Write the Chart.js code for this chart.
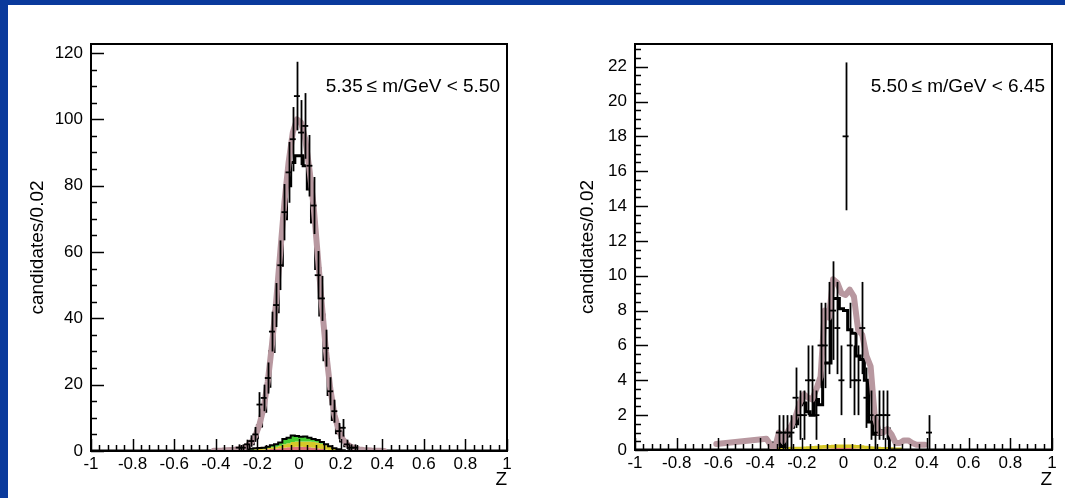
<!DOCTYPE html>
<html>
<head>
<meta charset="utf-8">
<script src="https://cdn.jsdelivr.net/npm/chart.js@4.4.1/dist/chart.umd.min.js"></script>
<style>
  html, body { margin: 0; padding: 0; background: #fff; }
  body { width: 1065px; height: 498px; position: relative; overflow: hidden; }
  .bar-top { position: absolute; left: 0; top: 0; width: 1065px; height: 5px; background: #0a3a9c; }
  .bar-left { position: absolute; left: 0; top: 0; width: 8px; height: 498px; background: #0a3a9c; }
  canvas { position: absolute; top: 5px; }
  #leftChart { left: 8px; }
  #rightChart { left: 540px; }
</style>
</head>
<body>
<div class="bar-top"></div>
<div class="bar-left"></div>
<canvas id="leftChart" width="532" height="493"></canvas>
<canvas id="rightChart" width="525" height="493"></canvas>
<script>
// Z bin centres (bin width 0.02), shared by both panels
const zBins = [-0.41, -0.39, -0.37, -0.35, -0.33, -0.31, -0.29, -0.27, -0.25, -0.23,
               -0.21, -0.19, -0.17, -0.15, -0.13, -0.11, -0.09, -0.07, -0.05, -0.03,
               -0.01, 0.01, 0.03, 0.05, 0.07, 0.09, 0.11, 0.13, 0.15, 0.17,
               0.19, 0.21, 0.23, 0.25, 0.27, 0.29, 0.31, 0.33, 0.35, 0.37,
               0.39, 0.41];

// Left panel: 5.35 <= m < 5.50
const leftCounts = [0, 0, 0, 0, 0, 0, 1, 1, 2, 3,
                    5, 14, 16, 22, 36, 44, 56, 72, 84, 94,
                    107, 96, 98, 86, 74, 53, 46, 31, 18, 12,
                    6, 7, 2, 1, 1, 0, 0, 0, 0, 0,
                    0, 0];
const leftSignal = [0, 0, 0, 0, 0, 0, 0.3, 0.6, 1.2, 2.2,
                    4, 7.5, 12, 19.5, 30, 42, 56, 70, 80, 87,
                    89, 89, 86, 79, 69, 55, 41, 27.5, 17, 9.5,
                    5.5, 3, 1.6, 0.8, 0.4, 0, 0, 0, 0, 0,
                    0, 0];
const leftFit = [0.05, 0.08, 0.12, 0.2, 0.3, 0.4, 0.6, 0.9, 1.5, 2.6,
                 4.5, 8, 13, 21, 32, 45, 60, 75, 87, 96,
                 100, 99, 94, 85, 74, 59, 44, 30, 19, 11,
                 6.5, 3.6, 2.1, 1.3, 0.8, 0.5, 0.3, 0.2, 0.12, 0.08,
                 0.05, 0.03];
const leftBkgRed = [0, 0, 0, 0, 0, 0, 0, 0, 0, 0.1,
                    0.2, 0.3, 0.4, 0.5, 0.6, 0.7, 0.8, 1.0, 1.1, 1.2,
                    1.3, 1.3, 1.2, 1.1, 1.0, 0.8, 0.6, 0.4, 0.3, 0.2,
                    0.1, 0, 0, 0, 0, 0, 0, 0, 0, 0,
                    0, 0];
const leftBkgYellow = [0, 0, 0, 0, 0, 0, 0, 0.2, 0.3, 0.3,
                       0.3, 0.3, 0.3, 0.4, 0.5, 0.6, 0.8, 1.0, 1.2, 1.5,
                       1.6, 1.6, 1.7, 1.8, 1.8, 1.8, 1.6, 1.3, 0.9, 0.5,
                       0.3, 0.2, 0, 0, 0, 0, 0, 0, 0, 0,
                       0, 0];
const leftBkgGreen = [0, 0, 0, 0, 0, 0, 0, 0.1, 0.3, 0.3,
                      0.3, 0.3, 0.3, 0.4, 0.6, 0.7, 1.0, 1.6, 1.7, 2.0,
                      1.6, 1.4, 1.5, 1.1, 0.8, 0.7, 0.5, 0.3, 0.2, 0.1,
                      0.1, 0, 0, 0, 0, 0, 0, 0, 0, 0,
                      0, 0];

// Right panel: 5.50 <= m < 6.45
const rightCounts = [0, 0, 0, 0, 0, 1, 1, 1, 1, 3,
                     2, 2, 4, 4, 2, 6, 6, 7, 8, 7,
                     4, 18, 6, 4, 4, 7, 3, 2, 1, 2,
                     2, 2, 0, 0, 0, 0, 0, 0, 0, 0,
                     0, 1];
const rightSignal = [0, 0, 0, 0, 0.4, 0.6, 0.2, 0.8, 1.3, 1.5,
                     2.6, 2.7, 2.2, 2.0, 2.9, 2.6, 5.0, 5.0, 8.7, 8.7,
                     8.1, 8.0, 6.9, 6.7, 5.4, 5.2, 4.0, 1.6, 0.9, 0.9,
                     1.1, 1.2, 0, 0, 0, 0, 0, 0, 0, 0,
                     0, 0];
const rightFitZ = [-0.61, -0.37, -0.35, -0.33, -0.31, -0.29, -0.27, -0.25, -0.23, -0.21,
                   -0.19, -0.17, -0.15, -0.13, -0.11, -0.09, -0.07, -0.05, -0.03, -0.01,
                   0.01, 0.03, 0.05, 0.07, 0.09, 0.11, 0.13, 0.15, 0.17, 0.19,
                   0.21, 0.23, 0.25, 0.27, 0.29, 0.31, 0.33, 0.35, 0.37, 0.39];
const rightFitV = [0.35, 0.65, 0.3, 0.05, 1.0, 0.5, 1.0, 1.4, 1.9, 2.7,
                   3.2, 3.0, 2.9, 3.5, 4.2, 8.0, 7.6, 9.8, 9.6, 9.0,
                   8.9, 9.2, 8.8, 6.9, 6.6, 5.4, 4.8, 1.9, 1.0, 1.0,
                   1.2, 0.9, 0.4, 0.4, 0.55, 0.55, 0.4, 0.3, 0.3, 0.3];
const rightBkgRed = [0, 0, 0, 0, 0, 0, 0, 0, 0, 0,
                     0, 0.01, 0.02, 0.03, 0.04, 0.06, 0.08, 0.09, 0.1, 0.11,
                     0.12, 0.12, 0.11, 0.1, 0.09, 0.07, 0.05, 0.03, 0.02, 0.01,
                     0, 0, 0, 0, 0, 0, 0, 0, 0, 0,
                     0, 0];
const rightBkgYellow = [0, 0, 0, 0, 0.15, 0.16, 0.17, 0.17, 0.18, 0.18,
                        0.19, 0.19, 0.2, 0.2, 0.2, 0.21, 0.21, 0.2, 0.2, 0.2,
                        0.2, 0.2, 0.2, 0.2, 0.2, 0.2, 0.19, 0.19, 0.18, 0.18,
                        0.17, 0.17, 0.16, 0.15, 0.15, 0, 0, 0, 0, 0,
                        0, 0];

// Axis tick labels
const xMajorTicks = [-1, -0.8, -0.6, -0.4, -0.2, 0, 0.2, 0.4, 0.6, 0.8, 1];
const xTickLabels = ['-1', '-0.8', '-0.6', '-0.4', '-0.2', '0', '0.2', '0.4', '0.6', '0.8', '1'];
const leftYMajorTicks = [0, 20, 40, 60, 80, 100, 120];
const leftYTickLabels = ['0', '20', '40', '60', '80', '100', '120'];
const rightYMajorTicks = [0, 2, 4, 6, 8, 10, 12, 14, 16, 18, 20, 22];
const rightYTickLabels = ['0', '2', '4', '6', '8', '10', '12', '14', '16', '18', '20', '22'];

const FONT = '"Liberation Sans", Arial, Helvetica, sans-serif';
const PINK = 'rgb(184, 152, 160)';
Chart.defaults.font.family = FONT;
Chart.defaults.color = '#000';

// histogram points, closed with empty bins at the axis ends
function histPoints(values) {
    const pts = zBins.map((z, i) => ({ x: z, y: values[i] }));
    return [{ x: -1, y: 0 }, ...pts, { x: 1, y: 0 }];
}

function addLayers(a, b) {
    return a.map((v, i) => v + b[i]);
}

// major ticks plus evenly spaced minor ticks between them
function withMinors(majors, nSub, max) {
    const out = [];
    for (let i = 0; i < majors.length; i++) {
        out.push(majors[i]);
        const step = i + 1 < majors.length ? majors[i + 1] - majors[i] : majors[i] - majors[i - 1];
        for (let k = 1; k < nSub; k++) {
            const v = majors[i] + step * k / nSub;
            if (v <= max + 1e-9) out.push(v);
        }
    }
    return out.filter(v => v <= max + 1e-9);
}

function labelFor(majors, labels) {
    return function(value) {
        const i = majors.findIndex(m => Math.abs(m - value) < 1e-6);
        return i >= 0 ? labels[i] : '';
    };
}

// Poisson error bars on the data points
const errorBars = {
    id: 'errorBars',
    afterDatasetsDraw(chart) {
        const { ctx, chartArea: a } = chart;
        const xs = chart.scales.x, ys = chart.scales.y;
        chart.data.datasets.forEach(ds => {
            if (!ds.isData) return;
            ctx.save();
            ctx.beginPath();
            ctx.rect(a.left, a.top, a.right - a.left, a.bottom - a.top);
            ctx.clip();
            ctx.strokeStyle = '#000';
            ctx.lineWidth = 1.8;
            ds.data.forEach(p => {
                const e = Math.sqrt(p.y);
                const px = Math.round(xs.getPixelForValue(p.x)) + 0.5;
                ctx.beginPath();
                ctx.moveTo(px, ys.getPixelForValue(p.y - e));
                ctx.lineTo(px, ys.getPixelForValue(p.y + e));
                ctx.stroke();
            });
            ctx.restore();
        });
    }
};

// ROOT-like frame with ticks pointing inwards
const rootFrame = {
    id: 'rootFrame',
    afterDraw(chart) {
        const { ctx, chartArea: a } = chart;
        const xs = chart.scales.x, ys = chart.scales.y;
        ctx.save();
        ctx.strokeStyle = '#000';
        ctx.lineWidth = 1.5;
        xs.ticks.forEach(t => {
            const px = Math.round(xs.getPixelForValue(t.value)) + 0.5;
            const len = t.label !== '' ? 12 : 6;
            ctx.beginPath();
            ctx.moveTo(px, a.bottom);
            ctx.lineTo(px, a.bottom - len);
            ctx.stroke();
        });
        ys.ticks.forEach(t => {
            const py = Math.round(ys.getPixelForValue(t.value)) + 0.5;
            const len = t.label !== '' ? 13 : 6;
            ctx.beginPath();
            ctx.moveTo(a.left, py);
            ctx.lineTo(a.left + len, py);
            ctx.stroke();
        });
        ctx.lineWidth = 2;
        ctx.strokeRect(a.left, a.top, a.right - a.left, a.bottom - a.top);
        ctx.restore();
    }
};

// mass range text in the top right corner
const rangeLabel = {
    id: 'rangeLabel',
    afterDraw(chart, args, opts) {
        const { ctx, chartArea: a } = chart;
        ctx.save();
        ctx.font = '19px ' + FONT;
        ctx.fillStyle = '#000';
        ctx.textAlign = 'right';
        ctx.textBaseline = 'middle';
        ctx.fillText(opts.text, a.right - 7, a.top + 43);
        ctx.restore();
    }
};

function buildPanel(id, p) {
    const red = p.red;
    const redYellow = addLayers(p.red, p.yellow);
    const datasets = [
        { isData: true, data: zBins.map((z, i) => ({ x: z, y: p.counts[i] })).filter(d => d.y > 0),
          showLine: false, pointStyle: 'line', pointRadius: 3, pointBorderWidth: 1.8,
          borderColor: '#000', backgroundColor: '#000', order: 0 },
        { data: p.fitZ.map((z, i) => ({ x: z, y: p.fitV[i] })), borderColor: PINK, borderWidth: 6,
          borderJoinStyle: 'round', borderCapStyle: 'round', pointRadius: 0, tension: 0, fill: false, order: 1 },
        { data: histPoints(p.signal), stepped: 'middle', borderColor: '#000', borderWidth: 3,
          pointRadius: 0, fill: false, order: 2 },
        { data: histPoints(red), stepped: 'middle', borderWidth: 0, borderColor: 'rgba(0,0,0,0)',
          backgroundColor: 'rgb(222, 112, 118)', pointRadius: 0, fill: 'origin', order: 6 },
        { data: histPoints(redYellow), stepped: 'middle', borderWidth: 0, borderColor: 'rgba(0,0,0,0)',
          backgroundColor: 'rgb(214, 200, 40)', pointRadius: 0, fill: '-1', order: 5 }
    ];
    if (p.green) {
        datasets.push({ data: histPoints(addLayers(redYellow, p.green)), stepped: 'middle',
          borderWidth: 2, borderColor: '#000', backgroundColor: 'rgb(70, 205, 50)',
          pointRadius: 0, fill: '-1', order: 4 });
    }

    return new Chart(document.getElementById(id), {
        type: 'line',
        data: { datasets: datasets },
        options: {
            responsive: false,
            animation: false,
            events: [],
            layout: { padding: { top: p.areaTop, right: p.padRight, left: 0, bottom: 0 } },
            plugins: {
                legend: { display: false },
                tooltip: { enabled: false },
                rangeLabel: { text: p.label }
            },
            scales: {
                x: {
                    type: 'linear', min: -1, max: 1,
                    afterFit(s) { s.height = p.xAxisHeight; },
                    afterBuildTicks(s) { s.ticks = withMinors(xMajorTicks, 5, 1).map(v => ({ value: v })); },
                    grid: { display: false, drawTicks: false },
                    border: { display: false },
                    ticks: { autoSkip: false, maxRotation: 0, minRotation: 0, padding: 3,
                             font: { size: 17 }, color: '#000',
                             callback: labelFor(xMajorTicks, xTickLabels) },
                    title: { display: true, text: 'Z', align: 'end', color: '#000',
                             font: { size: 19 }, padding: { top: 0, bottom: 7 } }
                },
                y: {
                    type: 'linear', min: 0, max: p.yMax,
                    afterFit(s) { s.width = p.areaLeft; },
                    afterBuildTicks(s) { s.ticks = withMinors(p.yMajors, 4, p.yMax).map(v => ({ value: v })); },
                    grid: { display: false, drawTicks: false },
                    border: { display: false },
                    ticks: { autoSkip: false, padding: 8, font: { size: 17 }, color: '#000',
                             callback: labelFor(p.yMajors, p.yLabels) },
                    title: { display: true, text: 'candidates/0.02', color: '#000',
                             font: { size: 19 }, padding: { top: p.titlePad, bottom: 0 } }
                }
            }
        },
        plugins: [errorBars, rootFrame, rangeLabel]
    });
}

buildPanel('leftChart', {
    counts: leftCounts, signal: leftSignal, fitZ: zBins, fitV: leftFit,
    red: leftBkgRed, yellow: leftBkgYellow, green: leftBkgGreen,
    yMax: 122.7, yMajors: leftYMajorTicks, yLabels: leftYTickLabels,
    label: '5.35\u2009\u2264 m/GeV < 5.50',
    areaTop: 39, areaLeft: 83, padRight: 532 - 499, xAxisHeight: 47, titlePad: 18
});

buildPanel('rightChart', {
    counts: rightCounts, signal: rightSignal, fitZ: rightFitZ, fitV: rightFitV,
    red: rightBkgRed, yellow: rightBkgYellow, green: null,
    yMax: 23.3, yMajors: rightYMajorTicks, yLabels: rightYTickLabels,
    label: '5.50\u2009\u2264 m/GeV < 6.45',
    areaTop: 39, areaLeft: 95, padRight: 525 - 512, xAxisHeight: 48, titlePad: 36
});
</script>
</body>
</html>
